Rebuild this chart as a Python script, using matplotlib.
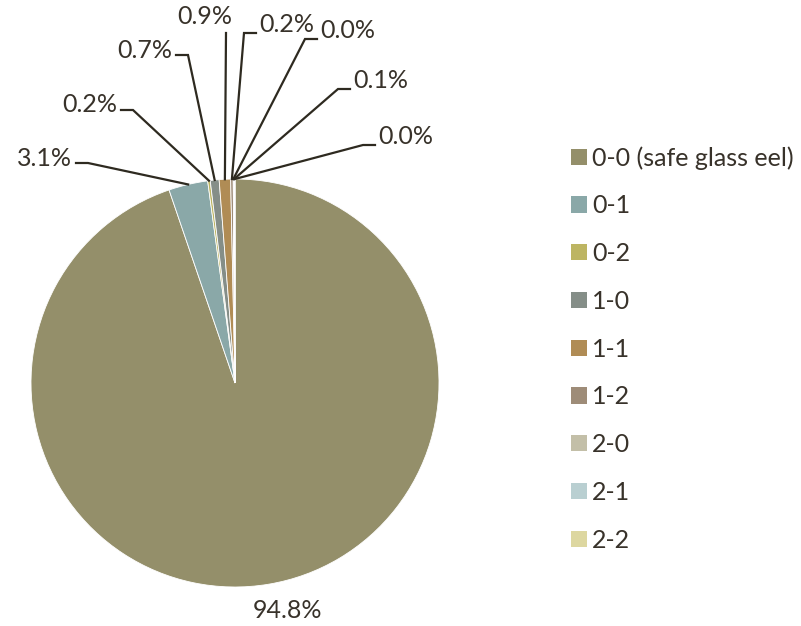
import numpy as np
import matplotlib
matplotlib.use("Agg")
import matplotlib.pyplot as plt
from matplotlib.patches import Rectangle

plt.rcParams['font.family'] = ['Lato', 'DejaVu Sans']

categories = ["0-0 (safe glass eel)", "0-1", "0-2", "1-0", "1-1", "1-2", "2-0", "2-1", "2-2"]
shares = [94.8, 3.1, 0.2, 0.7, 0.9, 0.2, 0.02, 0.1, 0.02]
pct_labels = ["94.8%", "3.1%", "0.2%", "0.7%", "0.9%", "0.2%", "0.0%", "0.1%", "0.0%"]
colors = ["#948f6a", "#8aa8a8", "#bdb562", "#858e88", "#b08c55",
          "#9e8c78", "#c3bfa8", "#b9cfd1", "#ddd7a0"]

# layout: elbow points of leader lines (pixel coords, y from top), None = plain label
W, H = 801, 626
cx, cy, R = 235, 383, 204
elbows = [None, (88, 163), (133, 110), (188, 55), (226, 33),
          (244, 33), (305, 39), (338, 89), (363, 145)]
sides = [None, "left", "left", "left", "top", "right", "right", "right", "right"]
FS = 18

fig = plt.figure(figsize=(W / 100, H / 100), dpi=100)
ax = fig.add_axes([0, 0, 1, 1])

txt_col = "#38322a"
line_col = "#2e2a20"

wedges, _ = ax.pie(shares, colors=colors, startangle=90, counterclock=False,
                   center=(cx, H - cy), radius=R, frame=True,
                   wedgeprops=dict(edgecolor="white", linewidth=0.6))
ax.set_xlim(0, W)
ax.set_ylim(0, H)
ax.axis("off")

for i, w in enumerate(wedges):
    if elbows[i] is None:
        ax.text(288, H - 610, pct_labels[i], ha="center", va="center",
                fontsize=FS, color=txt_col)
        continue
    ang = np.deg2rad((w.theta1 + w.theta2) / 2)
    px = cx + R * np.cos(ang)
    py = H - cy + R * np.sin(ang)
    ex, ey = elbows[i]
    ey = H - ey
    if sides[i] == "left":
        ax.plot([px, ex, ex - 12], [py, ey, ey], color=line_col, lw=1.6,
                solid_joinstyle="miter")
        ax.text(ex - 16, ey + 5, pct_labels[i], ha="right", va="center",
                fontsize=FS, color=txt_col)
    elif sides[i] == "right":
        ax.plot([px, ex, ex + 12], [py, ey, ey], color=line_col, lw=1.6,
                solid_joinstyle="miter")
        ax.text(ex + 15, ey + 8, pct_labels[i], ha="left", va="center",
                fontsize=FS, color=txt_col)
    else:
        ax.plot([px, ex], [py, ey], color=line_col, lw=1.6)
        ax.text(ex - 21, ey + 16, pct_labels[i], ha="center", va="center",
                fontsize=FS, color=txt_col)

handles = [Rectangle((0, 0), 1, 1, facecolor=c) for c in colors]
leg = ax.legend(handles, categories, loc="upper left",
                bbox_to_anchor=(561 / W, 1 - 136 / H), bbox_transform=fig.transFigure,
                frameon=False, fontsize=FS, handlelength=0.62, handleheight=0.62,
                handletextpad=0.22, labelspacing=0.99, borderaxespad=0)
for t in leg.get_texts():
    t.set_color(txt_col)

fig.savefig("out.png", dpi=100)
